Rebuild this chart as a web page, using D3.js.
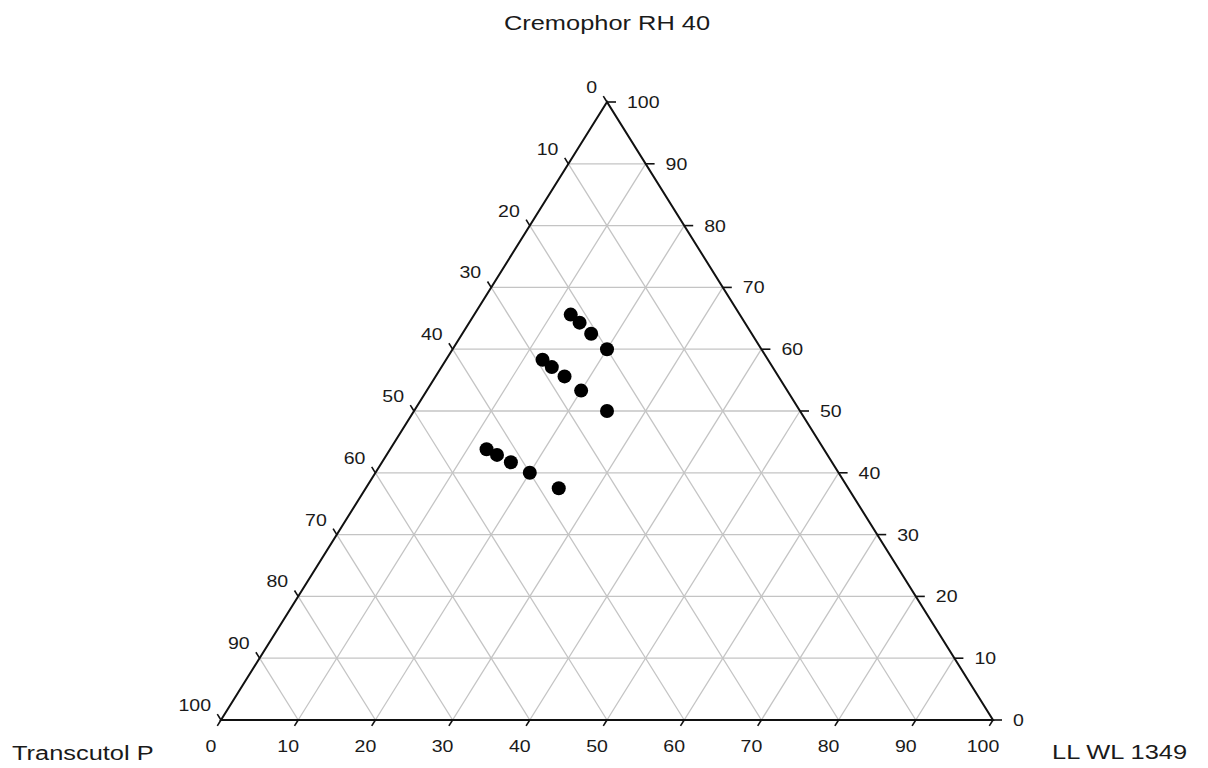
<!DOCTYPE html>
<html>
<head>
<meta charset="utf-8">
<script src="https://cdn.jsdelivr.net/npm/d3@7"></script>
<style>
  body { margin: 0; background: #fff; }
  text { font-family: "Liberation Sans", Arial, sans-serif; fill: #1a1a1a; }
</style>
</head>
<body>
<figure id="ternary" style="margin:0"></figure>
<script>
// axis titles
const topLabel = "Cremophor RH 40";
const leftLabel = "Transcutol P";
const rightLabel = "LL WL 1349";

// tick values (percent) on every side
const tickValues = [0, 10, 20, 30, 40, 50, 60, 70, 80, 90, 100];
const gridValues = [10, 20, 30, 40, 50, 60, 70, 80, 90];

// compositions (%) of the plotted formulations
const cremophor  = [65.6, 64.3, 62.5, 60.0, 58.3, 57.1, 55.6, 53.3, 50.0, 43.8, 42.9, 41.7, 40.0, 37.5];
const llwl       = [12.5, 14.3, 16.7, 20.0, 12.5, 14.3, 16.7, 20.0, 25.0, 12.5, 14.3, 16.7, 20.0, 25.0];
const transcutol = [21.9, 21.4, 20.8, 20.0, 29.2, 28.6, 27.7, 26.7, 25.0, 43.7, 42.8, 41.6, 40.0, 37.5];

const width = 1208, height = 768;
const apexTop = {x: 607, y: 102}, apexLeft = {x: 221, y: 720}, apexRight = {x: 993, y: 720};

const svg = d3.select("figure#ternary")
  .append("svg")
  .attr("width", width)
  .attr("height", height);

// L (LL WL) runs along the base, C (Cremophor) gives the height and leans the point right
const xScale = d3.scaleLinear().domain([0, 100]).range([apexLeft.x, apexRight.x]);
const yScale = d3.scaleLinear().domain([0, 100]).range([apexLeft.y, apexTop.y]);
const lean = d3.scaleLinear().domain([0, 100]).range([0, apexTop.x - apexLeft.x]);

function project(c, l) {
  return [xScale(l) + lean(c), yScale(c)];
}

const line = d3.line();

// grid
const grid = svg.append("g")
  .attr("stroke", "#c4c4c4")
  .attr("stroke-width", 1.3)
  .attr("fill", "none");

gridValues.forEach(v => {
  grid.append("path").attr("d", line([project(v, 0), project(v, 100 - v)]));
  grid.append("path").attr("d", line([project(0, v), project(100 - v, v)]));
  grid.append("path").attr("d", line([project(100 - v, 0), project(0, 100 - v)]));
});

// outline
svg.append("path")
  .attr("d", line([project(100, 0), project(0, 0), project(0, 100)]) + "Z")
  .attr("fill", "none")
  .attr("stroke", "#111")
  .attr("stroke-width", 2);

// edge directions for the ticks
const edgeLen = Math.hypot(apexTop.x - apexLeft.x, apexTop.y - apexLeft.y);
const downLeft = [(apexLeft.x - apexTop.x) / edgeLen, (apexLeft.y - apexTop.y) / edgeLen];
const upLeft = [(apexTop.x - apexRight.x) / edgeLen, (apexTop.y - apexRight.y) / edgeLen];

const ticks = svg.append("g").attr("stroke", "#111").attr("stroke-width", 1.6);

function label(x, y, txt, anchor, size, sx) {
  svg.append("text")
    .attr("transform", `translate(${x},${y}) scale(${sx},1)`)
    .attr("text-anchor", anchor)
    .style("font-size", size + "px")
    .text(txt);
}

tickValues.forEach(v => {
  // base: LL WL 1349
  let p = project(0, v);
  ticks.append("path").attr("d", line([p, [p[0] + downLeft[0] * 7, p[1] + downLeft[1] * 7]]));
  label(p[0] - 10, p[1] + 32, v, "middle", 16, 1.22);

  // right side: Cremophor RH 40
  p = project(v, 100 - v);
  ticks.append("path").attr("d", line([p, [p[0] + 9, p[1]]]));
  label(p[0] + 20, p[1] + 6, v, "start", 16, 1.22);

  // left side: Transcutol P
  p = project(100 - v, 0);
  ticks.append("path").attr("d", line([p, [p[0] + upLeft[0] * 7, p[1] + upLeft[1] * 7]]));
  label(p[0] - 10, p[1] - 9, v, "end", 16, 1.22);
});

// axis titles
label(apexTop.x, 30, topLabel, "middle", 20, 1.27);
label(12, 760, leftLabel, "start", 20, 1.27);
label(1052, 759, rightLabel, "start", 20, 1.27);

// formulations
svg.append("g")
  .selectAll("circle")
  .data(d3.range(cremophor.length))
  .enter()
  .append("circle")
  .attr("cx", i => project(cremophor[i], llwl[i])[0])
  .attr("cy", i => project(cremophor[i], llwl[i])[1])
  .attr("r", 7)
  .attr("fill", "#000");
</script>
</body>
</html>
